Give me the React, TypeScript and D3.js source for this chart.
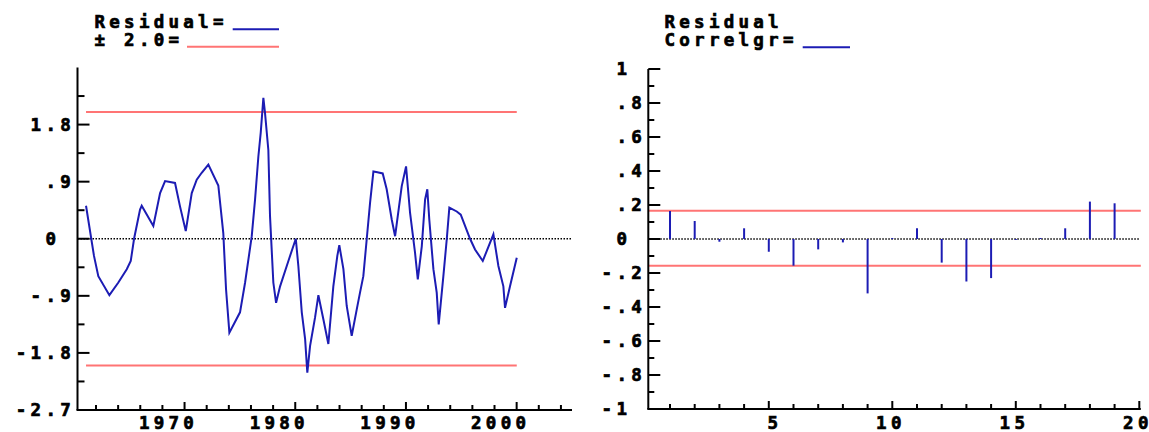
import * as d3 from "d3";

// residual series (year, value)
const residYears = [
  1961.1, 1961.82, 1962.21, 1963.21, 1964.02, 1964.78, 1965.14, 1965.44, 1965.98, 1966.13,
  1967.18, 1967.79, 1968.24, 1969.14, 1969.59, 1970.11, 1970.65, 1971.1, 1971.55, 1972.15,
  1973.05, 1973.5, 1973.75, 1974.05, 1975.01, 1975.47, 1976.07, 1976.37, 1976.67, 1976.88,
  1977.12, 1977.27, 1977.57, 1977.72, 1978.02, 1978.27, 1978.63, 1979.38, 1980.05, 1980.28,
  1980.59, 1980.89, 1981.09, 1981.34, 1981.79, 1982.09, 1982.54, 1982.99, 1983.44, 1983.8,
  1983.98, 1984.35, 1984.65, 1985.1, 1985.56, 1985.85, 1986.15, 1986.46, 1986.76, 1987.06,
  1987.42, 1987.9, 1988.26, 1988.72, 1989.02, 1989.62, 1990.01, 1990.37, 1990.82, 1991.07,
  1991.43, 1991.73, 1991.93, 1992.11, 1992.48, 1992.78, 1992.96, 1993.38, 1993.69, 1993.92,
  1994.59, 1994.95, 1995.79, 1996.24, 1996.94, 1997.9, 1998.35, 1998.8, 1998.95, 1999.4,
  2000.01,
];
const residValues = [
  0.52, -0.27, -0.59, -0.89, -0.69, -0.48, -0.35, 0.0, 0.46, 0.52,
  0.2, 0.72, 0.91, 0.88, 0.51, 0.12, 0.72, 0.93, 1.04, 1.17,
  0.84, 0.09, -0.8, -1.48, -1.16, -0.69, 0.04, 0.62, 1.3, 1.67,
  2.22, 1.98, 1.4, 0.36, -0.69, -1.01, -0.75, -0.35, 0.0, -0.43,
  -1.16, -1.58, -2.11, -1.69, -1.24, -0.89, -1.27, -1.66, -0.75, -0.27,
  -0.1, -0.48, -1.06, -1.53, -1.11, -0.85, -0.59, 0.0, 0.57, 1.06,
  1.05, 1.03, 0.78, 0.3, 0.04, 0.83, 1.14, 0.41, -0.22, -0.64,
  -0.12, 0.62, 0.78, 0.3, -0.48, -0.85, -1.35, -0.59, 0.0, 0.49,
  0.43, 0.38, 0.0, -0.17, -0.35, 0.07, -0.43, -0.75, -1.09, -0.75,
  -0.3,
];
const residBand = [2.0, -2.0];

// residual correlogram
const acfLags = [1, 2, 3, 4, 5, 6, 7, 8, 9, 10, 11, 12, 13, 14, 15, 16, 17, 18, 19];
const acfValues = [
  0.165, 0.106, -0.016, 0.063, -0.075, -0.157, -0.061, -0.02, -0.32, 0.004,
  0.063, -0.139, -0.25, -0.23, -0.005, 0.002, 0.063, 0.22, 0.21,
];
const acfBand = [0.166, -0.158];

// ticks
const leftYTicks = [-2.7, -1.8, -0.9, 0, 0.9, 1.8];
const leftYLabels = ["-2.7", "-1.8", "-.9", "0", ".9", "1.8"];
const leftYMinor = [-2.25, -1.35, -0.45, 0.45, 1.35, 2.25];
const yearTicks = [1970, 1980, 1990, 2000];
const yearMinor = d3.range(1962, 2005, 2);
const rightYTicks = [-1, -0.8, -0.6, -0.4, -0.2, 0, 0.2, 0.4, 0.6, 0.8, 1];
const rightYLabels = ["-1", "-.8", "-.6", "-.4", "-.2", "0", ".2", ".4", ".6", ".8", "1"];
const rightYMinor = [-0.9, -0.7, -0.5, -0.3, -0.1, 0.1, 0.3, 0.5, 0.7, 0.9];
const lagTicks = [5, 10, 15, 20];
const lagMinor = d3.range(1, 21);

const FONT = '"DejaVu Sans Mono", monospace';
const FS = 17.5;
const CH = 14.8; // char advance incl. spacing
const LS = CH - 0.602 * FS;
const BLUE = "#1c1cb4";
const RED = "#ff7474";

const txt = {
  fontFamily: FONT,
  fontSize: FS,
  fontWeight: "bold" as const,
  letterSpacing: LS,
  fill: "#000",
  stroke: "#000",
  strokeWidth: 0.7,
};

// right-aligned label, no trailing letter-spacing after the last char
function RLabel({ x, y, s }: { x: number; y: number; s: string }) {
  return (
    <text x={x} y={y} textAnchor="end" style={txt}>
      {s.slice(0, -1)}
      <tspan style={{ letterSpacing: 0 }}>{s.slice(-1)}</tspan>
    </text>
  );
}

export default function App() {
  const xL = d3.scaleLinear().domain([1960.33, 2005]).range([77.5, 572]);
  const yL = d3.scaleLinear().domain([-2.7, 2.7]).range([410, 67.5]);
  const xR = d3.scaleLinear().domain([0, 20]).range([645.3, 1139.3]);
  const yR = d3.scaleLinear().domain([-1, 1]).range([409, 69]);

  const residLine = d3
    .line<number>()
    .x((_, i) => xL(residYears[i]))
    .y((d) => yL(d))(residValues) || "";

  const yrExt = d3.extent(residYears) as [number, number];
  const axL = xL.range()[0];
  const axR = xR(0) + 3;
  const lblY = 428.5;

  return (
    <svg
      width={1149}
      height={432}
      style={{ position: "absolute", left: 0, top: 0, background: "#fff" }}
    >
      {/* ---------- left: residuals ---------- */}
      <text x={94.5} y={28.3} style={txt}>Residual=</text>
      <text x={94.5} y={45.7} style={txt}>± 2.0=</text>
      <line x1={232.7} x2={279} y1={29.3} y2={29.3} stroke={BLUE} strokeWidth={2} />
      <line x1={187} x2={279} y1={46.7} y2={46.7} stroke={RED} strokeWidth={2} />

      {/* zero line */}
      <line x1={axL} x2={xL.range()[1]} y1={yL(0)} y2={yL(0)} stroke="#000"
        strokeWidth={1.5} strokeDasharray="1.5,1.5" />
      {/* +-2 band */}
      {residBand.map((b) => (
        <line key={b} x1={xL(yrExt[0])} x2={xL(yrExt[1])} y1={yL(b)} y2={yL(b)}
          stroke={RED} strokeWidth={2} />
      ))}
      <path d={residLine} fill="none" stroke={BLUE} strokeWidth={2} />

      {/* axes */}
      <line x1={axL} x2={axL} y1={yL(2.7)} y2={yL(-2.7)} stroke="#000" strokeWidth={2} />
      <line x1={axL - 1} x2={xL.range()[1]} y1={yL(-2.7)} y2={yL(-2.7)} stroke="#000" strokeWidth={2} />
      {leftYTicks.map((t, i) => (
        <g key={t}>
          <line x1={axL} x2={axL + 12} y1={yL(t)} y2={yL(t)} stroke="#000" strokeWidth={2} />
          <RLabel x={(t === 0 ? 75 - CH : 75) - LS} y={yL(t) + 6} s={leftYLabels[i]} />
        </g>
      ))}
      {leftYMinor.map((t) => (
        <line key={t} x1={axL} x2={axL + 7} y1={yL(t)} y2={yL(t)} stroke="#000" strokeWidth={2} />
      ))}
      {yearMinor.map((t) => (
        <line key={t} x1={xL(t)} x2={xL(t)}
          y1={yL(-2.7)} y2={yL(-2.7) - (t % 10 === 0 ? 8 : 5)} stroke="#000" strokeWidth={2} />
      ))}
      {yearTicks.map((t) => (
        <RLabel key={t} x={xL(t) + 13.6 - LS} y={lblY} s={String(t)} />
      ))}

      {/* ---------- right: correlogram ---------- */}
      <text x={664.5} y={28.3} style={txt}>Residual</text>
      <text x={664.5} y={45.7} style={txt}>Correlgr=</text>
      <line x1={802.7} x2={850} y1={47.3} y2={47.3} stroke={BLUE} strokeWidth={2} />

      <line x1={axR} x2={xR(20) + 1} y1={yR(0)} y2={yR(0)} stroke="#000"
        strokeWidth={1.5} strokeDasharray="1.5,1.5" />
      {acfBand.map((b) => (
        <line key={b} x1={axR} x2={xR(20) + 1.5} y1={yR(b)} y2={yR(b)} stroke={RED} strokeWidth={2} />
      ))}
      {acfLags.map((l, i) => (
        <line key={l} x1={xR(l)} x2={xR(l)} y1={yR(0)}
          y2={Math.abs(yR(acfValues[i]) - yR(0)) < 1 ? yR(0) + (acfValues[i] < 0 ? 1 : -1) : yR(acfValues[i])}
          stroke={BLUE} strokeWidth={2} />
      ))}

      <line x1={axR} x2={axR} y1={yR(1)} y2={yR(-1)} stroke="#000" strokeWidth={2} />
      <line x1={axR - 1} x2={xR(20) + 1.5} y1={yR(-1)} y2={yR(-1)} stroke="#000" strokeWidth={2} />
      {rightYTicks.map((t, i) => (
        <g key={t}>
          {t > -1 && (
            <line x1={axR} x2={axR + 12} y1={yR(t)} y2={yR(t)} stroke="#000" strokeWidth={2} />
          )}
          <RLabel x={(Math.abs(t) === 1 || t === 0 ? 646 - CH : 646) - LS} y={yR(t) + 6}
            s={rightYLabels[i]} />
        </g>
      ))}
      {rightYMinor.map((t) => (
        <line key={t} x1={axR} x2={axR + 6} y1={yR(t)} y2={yR(t)} stroke="#000" strokeWidth={2} />
      ))}
      {lagMinor.map((t) => (
        <line key={t} x1={xR(t)} x2={xR(t)}
          y1={yR(-1)} y2={yR(-1) - (t % 5 === 0 ? 8 : 5)} stroke="#000" strokeWidth={2} />
      ))}
      {lagTicks.map((t) => (
        <RLabel key={t} x={xR(t) + 13.4 - LS} y={lblY} s={String(t)} />
      ))}
    </svg>
  );
}
